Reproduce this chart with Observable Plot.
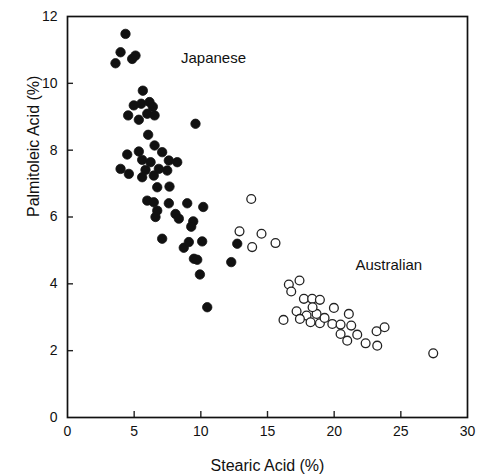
<!DOCTYPE html>
<html>
<head>
<meta charset="utf-8">
<script src="https://cdn.jsdelivr.net/npm/d3@7"></script>
<script src="https://cdn.jsdelivr.net/npm/@observablehq/plot@0.6"></script>
<style>
  html, body { margin: 0; padding: 0; background: #fff; }
  #chart svg { display: block; }
</style>
</head>
<body>
<div id="chart"></div>
<script>
// Japanese samples: [stearic %, palmitoleic %]
const japanese = [
  [4.35,11.48],[3.98,10.93],[3.6,10.6],[4.85,10.73],[5.1,10.83],
  [5.65,9.78],[4.97,9.34],[5.53,9.39],[6.15,9.44],[6.4,9.3],[4.55,9.04],[5.35,8.91],[5.98,9.09],[6.53,9.04],
  [9.6,8.79],
  [6.05,8.46],[6.53,8.14],[4.48,7.87],[5.35,7.96],[7.1,7.94],[5.6,7.71],[6.23,7.64],[7.6,7.69],[8.23,7.64],
  [3.98,7.44],[4.6,7.29],[5.85,7.41],[6.85,7.44],[7.48,7.39],[5.6,7.19],[6.47,7.24],[6.73,6.89],[7.65,6.91],
  [5.98,6.49],[6.47,6.44],[6.73,6.19],[6.6,6.0],[7.6,6.41],[8.98,6.41],[8.1,6.09],[8.35,5.95],[9.43,5.87],
  [9.28,5.71],[10.18,6.3],[7.1,5.35],[8.72,5.08],[9.1,5.25],[10.1,5.27],[9.48,4.75],[9.73,4.72],[9.93,4.28],
  [12.28,4.65],[12.73,5.2],[10.48,3.3]
];
// Australian samples: [stearic %, palmitoleic %]
const australian = [
  [13.78,6.54],[12.9,5.57],[14.55,5.5],[13.85,5.1],[15.6,5.22],
  [16.6,3.98],[17.4,4.1],[16.78,3.77],[16.2,2.92],[17.73,3.55],[18.35,3.55],[18.93,3.52],[19.98,3.28],
  [17.18,3.18],[17.93,3.05],[18.68,3.1],[18.38,3.3],[21.1,3.1],[17.43,2.95],[18.23,2.85],[18.93,2.82],
  [19.28,2.98],[19.86,2.8],[20.48,2.78],[21.28,2.75],[20.48,2.5],[21.73,2.48],[20.98,2.3],[22.36,2.22],
  [23.23,2.15],[23.18,2.58],[23.78,2.7],[27.43,1.92]
];
const groupLabels = [
  {name: "Japanese", x: 10.95, y: 10.74},
  {name: "Australian", x: 24.1, y: 4.55}
];
const xTicks = [0, 5, 10, 15, 20, 25, 30];
const yTicks = [0, 2, 4, 6, 8, 10, 12];
const xTitle = ["Stearic Acid (%)"];
const yTitle = ["Palmitoleic Acid (%)"];

const font = "Helvetica, 'Liberation Sans', Arial, sans-serif";
const W = 487, H = 474, ML = 67, MR = 20, MT = 16, MB = 57;
const xDomain = [0, 30], yDomain = [0, 12];
const tickPx = 6;
// tick lengths converted from pixels to data units
const xTickLen = (yDomain[1] - yDomain[0]) * tickPx / (H - MT - MB);
const yTickLen = (xDomain[1] - xDomain[0]) * tickPx / (W - ML - MR);

const chart = Plot.plot({
  width: W,
  height: H,
  marginLeft: ML,
  marginRight: MR,
  marginTop: MT,
  marginBottom: MB,
  style: {fontFamily: font, color: "#111", background: "#fff"},
  x: {domain: xDomain},
  y: {domain: yDomain},
  marks: [
    // inward tick marks
    Plot.ruleX(xTicks.slice(1, -1), {x: d => d, y1: yDomain[0], y2: yDomain[0] + xTickLen, stroke: "#222", strokeWidth: 1.4}),
    Plot.ruleY(yTicks.slice(1, -1), {y: d => d, x1: xDomain[0], x2: xDomain[0] + yTickLen, stroke: "#222", strokeWidth: 1.4}),
    // tick labels
    Plot.axisX({ticks: xTicks, tickSize: 0, tickPadding: 9, fontSize: 14, label: null}),
    Plot.axisY({ticks: yTicks, tickSize: 0, tickPadding: 10, fontSize: 14, label: null}),
    // axis titles
    Plot.text(xTitle, {text: d => d, frameAnchor: "bottom", lineAnchor: "bottom", dy: 53, fontSize: 16, fill: "#111"}),
    Plot.text(yTitle, {text: d => d, frameAnchor: "left", rotate: -90, lineAnchor: "middle", dx: -34, fontSize: 16, fill: "#111"}),
    Plot.frame({stroke: "#111", strokeWidth: 1.7}),
    Plot.dot(japanese, {x: d => d[0], y: d => d[1], r: 4.7, fill: "#111", stroke: "#111", strokeWidth: 0.8}),
    Plot.dot(australian, {x: d => d[0], y: d => d[1], r: 4.4, fill: "#fff", stroke: "#222", strokeWidth: 1.3}),
    Plot.text(groupLabels, {x: "x", y: "y", text: "name", fontSize: 15, fill: "#111"})
  ]
});

document.getElementById("chart").appendChild(chart);
</script>
</body>
</html>
